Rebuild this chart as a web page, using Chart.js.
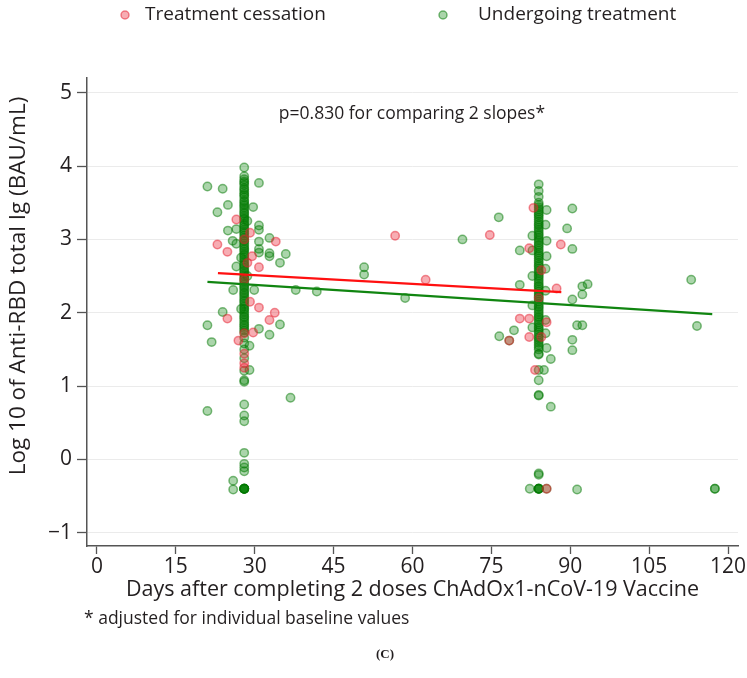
<!DOCTYPE html>
<html><head><meta charset="utf-8">
<script src="https://cdn.jsdelivr.net/npm/chart.js@4.4.1/dist/chart.umd.min.js"></script>
<style>html,body{margin:0;padding:0;background:#fff}canvas{display:block}</style>
</head><body>
<canvas id="c" width="747" height="678"></canvas>
<script>
// ---------- data ----------
const seriesNames = ['Treatment cessation', 'Undergoing treatment'];
const xTicks = [0, 15, 30, 45, 60, 75, 90, 105, 120];
const yTicks = [-1, 0, 1, 2, 3, 4, 5];

const cessationDays = [22.9, 26.5, 29.1, 24.8, 34.0, 29.5, 30.8, 28.6, 29.1, 30.8, 24.8, 33.8, 32.8, 29.7, 26.9, 28, 28, 28, 28, 28, 28,
  56.7, 62.5, 74.7, 88.2, 87.4, 80.4, 82.2, 85.5, 84.5, 78.4, 82.2, 83.3, 82.2, 84.5, 83.0, 84, 85.5];
const cessationLog = [2.93, 3.27, 3.09, 2.83, 2.97, 2.77, 2.62, 2.68, 2.15, 2.07, 1.92, 2.00, 1.90, 1.73, 1.62, 1.72, 1.44, 1.31, 1.25, 2.45, 3.00,
  3.05, 2.45, 3.06, 2.93, 2.33, 1.92, 1.92, 1.87, 1.67, 1.62, 1.67, 1.22, 2.88, 2.58, 3.43, 2.20, -0.40];

const earlyVisitDay = 28;
const lateVisitDay = 84;
const treatEarlyColumnLog = [3.98, 3.86, 3.82, 3.79, 3.77, 3.74, 3.70, 3.68, 3.65, 3.62, 3.60, 3.57, 3.53, 3.51, 3.48, 3.46, 3.43, 3.40, 3.37,
  3.35, 3.32, 3.29, 3.27, 3.24, 3.21, 3.19, 3.16, 3.13, 3.10, 3.08, 3.05, 3.02, 2.99, 2.97, 2.94, 2.91, 2.88, 2.86, 2.83, 2.80, 2.78,
  2.75, 2.72, 2.69, 2.66, 2.64, 2.61, 2.58, 2.56, 2.53, 2.50, 2.47, 2.45, 2.42, 2.39, 2.36, 2.34, 2.31, 2.28, 2.26, 2.23, 2.20, 2.17,
  2.15, 2.12, 2.09, 2.06, 2.04, 2.01, 1.98, 1.95, 1.93, 1.90, 1.87, 1.84, 1.82, 1.79, 1.76, 1.73, 1.66, 1.58, 1.50, 1.38, 1.21, 1.08,
  1.06, 0.75, 0.60, 0.52, 0.09, -0.06, -0.11, -0.16, -0.40, -0.40, -0.40, -0.40, -0.40, -0.40, -0.40];
const treatLateColumnLog = [3.75, 3.66, 3.58, 3.50, 3.47, 3.44, 3.41, 3.38, 3.35, 3.33, 3.30, 3.27, 3.24, 3.21, 3.19, 3.16, 3.13, 3.10,
  3.07, 3.05, 3.02, 2.99, 2.96, 2.93, 2.91, 2.88, 2.85, 2.82, 2.79, 2.77, 2.74, 2.71, 2.68, 2.65, 2.63, 2.60, 2.57, 2.54, 2.51, 2.49,
  2.46, 2.43, 2.40, 2.37, 2.35, 2.32, 2.29, 2.26, 2.23, 2.21, 2.18, 2.15, 2.12, 2.09, 2.07, 2.04, 2.01, 1.98, 1.95, 1.93, 1.90, 1.87,
  1.84, 1.81, 1.79, 1.76, 1.73, 1.70, 1.67, 1.65, 1.62, 1.59, 1.56, 1.53, 1.50, 1.44, 1.43, 1.22, 1.08, 0.88, 0.87, -0.19, -0.21,
  -0.40, -0.40, -0.40, -0.40, -0.40];
const treatOtherDays = [21.0, 23.9, 30.8, 24.9, 22.9, 29.7, 24.9, 30.8, 30.8, 26.5, 25.8, 30.8, 32.8, 30.8, 30.8, 32.8, 32.8, 35.9, 34.8,
  26.5, 26.5, 25.9, 29.9, 37.8, 41.8, 23.9, 21.0, 21.8, 30.8, 34.8, 32.8, 29.0, 29.0, 36.8, 21.0, 25.9, 25.9, 28.6, 27.4, 28.6, 27.4,
  50.8, 50.8, 58.6, 69.5, 76.4,
  90.4, 89.4, 90.4, 80.4, 85.5, 85.5, 80.4, 92.3, 93.3, 92.3, 90.4, 91.3, 92.3, 76.5, 79.3, 78.4, 90.4, 90.4, 85.5, 86.3, 85.0, 86.3,
  82.3, 85.5, 91.3, 117.5, 117.5, 113.0, 114.1, 85.5, 85.3, 85.3, 85.3, 82.8, 82.8, 85.3, 82.8, 85.3, 82.8, 82.8];
const treatOtherLog = [3.72, 3.69, 3.77, 3.47, 3.37, 3.44, 3.12, 3.19, 3.13, 3.14, 2.98, 2.97, 3.02, 2.87, 2.82, 2.81, 2.77, 2.80, 2.68,
  2.63, 2.94, 2.31, 2.31, 2.31, 2.29, 2.01, 1.83, 1.60, 1.78, 1.84, 1.70, 1.55, 1.22, 0.84, 0.66, -0.29, -0.41, 3.25, 2.75, 2.50, 2.05,
  2.62, 2.52, 2.20, 3.00, 3.30,
  3.42, 3.15, 2.87, 2.85, 2.98, 2.77, 2.38, 2.36, 2.39, 2.25, 2.18, 1.83, 1.83, 1.68, 1.76, 1.62, 1.63, 1.49, 1.52, 1.37, 1.22, 0.72,
  -0.40, -0.40, -0.41, -0.40, -0.40, 2.45, 1.82, 3.40, 3.20, 2.60, 2.30, 2.50, 2.10, 1.90, 1.80, 1.72, 3.05, 2.85];

const cessationFitDays = [23.0, 88.3];
const cessationFitLog = [2.54, 2.28];
const treatmentFitDays = [21.0, 117.0];
const treatmentFitLog = [2.42, 1.98];

const annotationText = 'p=0.830 for comparing 2 slopes*';
const xTitle = 'Days after completing 2 doses ChAdOx1-nCoV-19 Vaccine';
const yTitle = 'Log 10 of Anti-RBD total Ig (BAU/mL)';
const footnote = '* adjusted for individual baseline values';
const panelLabel = '(C)';

// ---------- build ----------
const pairs = (xs, ys) => xs.map((x, i) => ({x, y: ys[i]}));
const column = (day, ys) => ys.map(y => ({x: day, y}));
const treatmentPoints = column(earlyVisitDay, treatEarlyColumnLog)
  .concat(column(lateVisitDay, treatLateColumnLog))
  .concat(pairs(treatOtherDays, treatOtherLog));

const FONT = "'Open Sans', 'Noto Sans', sans-serif";
const TXT = '#231f20';
const RED_FILL = 'rgba(235,40,55,0.38)', RED_LINE = 'rgba(230,30,45,0.5)';
const GRN_FILL = 'rgba(0,128,0,0.33)', GRN_LINE = 'rgba(0,120,0,0.5)';

const extras = {
  id: 'extras',
  afterDraw(chart) {
    const ctx = chart.ctx;
    const xs = chart.scales.x, ys = chart.scales.y;
    ctx.save();
    // legend
    const items = [
      {x: 125, tx: 145, fill: RED_FILL, line: RED_LINE, text: seriesNames[0]},
      {x: 443, tx: 478, fill: GRN_FILL, line: GRN_LINE, text: seriesNames[1]}
    ];
    ctx.font = '19px ' + FONT;
    ctx.textBaseline = 'middle';
    ctx.textAlign = 'left';
    items.forEach(it => {
      ctx.beginPath();
      ctx.arc(it.x, 15, 4, 0, Math.PI * 2);
      ctx.fillStyle = it.fill; ctx.fill();
      ctx.lineWidth = 1.5; ctx.strokeStyle = it.line; ctx.stroke();
      ctx.fillStyle = TXT;
      ctx.fillText(it.text, it.tx, 15);
    });
    // y axis title
    ctx.save();
    ctx.translate(19, 286);
    ctx.rotate(-Math.PI / 2);
    ctx.font = '22.5px ' + FONT;
    ctx.textAlign = 'center';
    ctx.fillText(yTitle, 0, 0);
    ctx.restore();
    // annotation
    ctx.font = '17.5px ' + FONT;
    ctx.textAlign = 'center';
    ctx.fillText(annotationText, xs.getPixelForValue(59.9), ys.getPixelForValue(4.71));
    // footnote
    ctx.font = '17.5px ' + FONT;
    ctx.textAlign = 'left';
    ctx.fillText(footnote, 84, 619);
    // panel label
    ctx.font = 'bold 13px "Liberation Serif", serif';
    ctx.textAlign = 'center';
    ctx.fillText(panelLabel, 385, 655);
    ctx.restore();
  }
};

new Chart(document.getElementById('c'), {
  type: 'scatter',
  data: {
    datasets: [
      {label: 'cessation fit', data: pairs(cessationFitDays, cessationFitLog), showLine: true, borderColor: '#ff1010',
        borderWidth: 2.2, pointRadius: 0, order: 0},
      {label: 'treatment fit', data: pairs(treatmentFitDays, treatmentFitLog), showLine: true, borderColor: '#108510',
        borderWidth: 2.2, pointRadius: 0, order: 0},
      {label: seriesNames[0], data: pairs(cessationDays, cessationLog), backgroundColor: RED_FILL, borderColor: RED_LINE,
        borderWidth: 1.5, pointRadius: 4.2, order: 1},
      {label: seriesNames[1], data: treatmentPoints, backgroundColor: GRN_FILL, borderColor: GRN_LINE,
        borderWidth: 1.5, pointRadius: 4.2, order: 2}
    ]
  },
  options: {
    responsive: false,
    animation: false,
    events: [],
    layout: {padding: {left: 0, right: 9, top: 78, bottom: 75}},
    plugins: {legend: {display: false}, tooltip: {enabled: false}},
    scales: {
      x: {
        type: 'linear', min: -1.9, max: 121.9,
        afterBuildTicks: s => { s.ticks = xTicks.map(v => ({value: v})); },
        afterFit: s => { s.height = 57; s.paddingLeft = 0; s.paddingRight = 0; },
        ticks: {font: {family: FONT, size: 21}, color: TXT, padding: 0, maxRotation: 0, autoSkip: false},
        grid: {drawOnChartArea: false, drawTicks: true, tickLength: 8, tickColor: '#555', tickWidth: 1.3},
        border: {color: '#555', width: 1.5},
        title: {display: true, text: xTitle, font: {family: FONT, size: 21.5}, color: TXT, padding: {top: 0, bottom: 0}}
      },
      y: {
        type: 'linear', min: -1.18, max: 5.2,
        afterBuildTicks: s => { s.ticks = yTicks.map(v => ({value: v})); },
        afterFit: s => { s.width = 87; s.paddingTop = 0; s.paddingBottom = 0; },
        ticks: {font: {family: FONT, size: 21}, color: TXT, padding: 5,
          callback: v => (v < 0 ? '\u2212' + Math.abs(v) : String(v))},
        grid: {color: '#ebebeb', lineWidth: 1, drawTicks: true, tickLength: 10, tickColor: '#555', tickWidth: 1.3},
        border: {color: '#555', width: 1.5},
        title: {display: false}
      }
    }
  },
  plugins: [extras]
});
</script>
</body></html>
